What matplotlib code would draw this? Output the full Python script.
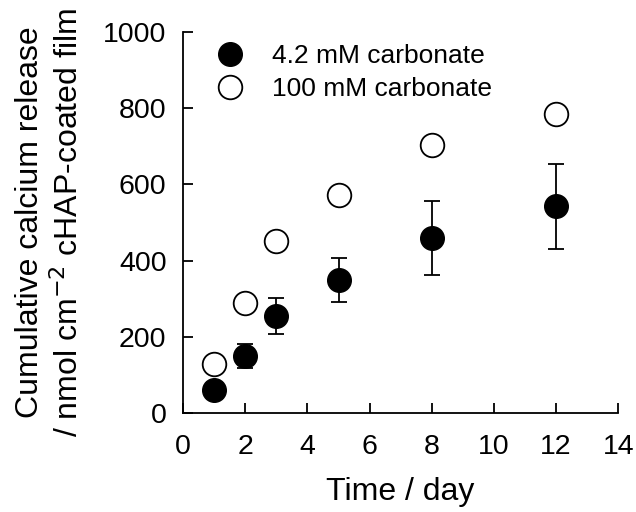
import matplotlib
matplotlib.use('Agg')
import matplotlib.pyplot as plt

plt.rcParams['font.family'] = ['Liberation Sans', 'DejaVu Sans']

days = [1, 2, 3, 5, 8, 12]
low_carb = [60, 150, 255, 349, 459, 542]
low_carb_err = [0, 32, 48, 58, 96, 112]
high_carb = [130, 290, 452, 572, 702, 784]

fig = plt.figure(figsize=(6.36, 5.12), dpi=100)
ax = fig.add_axes([0.288, 0.193, 0.684, 0.745])

ax.errorbar(days, low_carb, yerr=low_carb_err, fmt='none', ecolor='black',
            elinewidth=1.3, capsize=6, capthick=1.3, zorder=2)
ax.plot(days, low_carb, 'o', color='black', markersize=17,
        label='4.2 mM carbonate', zorder=3)
ax.plot(days, high_carb, 'o', markerfacecolor='white', markeredgecolor='black',
        markeredgewidth=1.3, markersize=17, label='100 mM carbonate', zorder=3)

ax.set_xlim(0, 14)
ax.set_ylim(0, 1000)
ax.set_xticks(range(0, 15, 2))
ax.set_yticks(range(0, 1001, 200))
for s in ['top', 'right']:
  ax.spines[s].set_visible(False)
for s in ['left', 'bottom']:
  ax.spines[s].set_linewidth(1.3)
ax.tick_params(direction='in', length=7, width=1.3, labelsize=20.5)
ax.tick_params(axis='y', pad=12)
ax.tick_params(axis='x', pad=15)

ax.set_xlabel('Time / day', fontsize=23, labelpad=12)
ax.set_ylabel('Cumulative calcium release\n/ nmol cm$^{-2}$ cHAP-coated film',
              fontsize=23, labelpad=13, linespacing=1.3)

ax.legend(loc='upper left', frameon=False, fontsize=19, handletextpad=0.6,
          borderaxespad=0.0, labelspacing=0.35, bbox_to_anchor=(0.022, 0.995))

fig.savefig('out.png', dpi=100)
